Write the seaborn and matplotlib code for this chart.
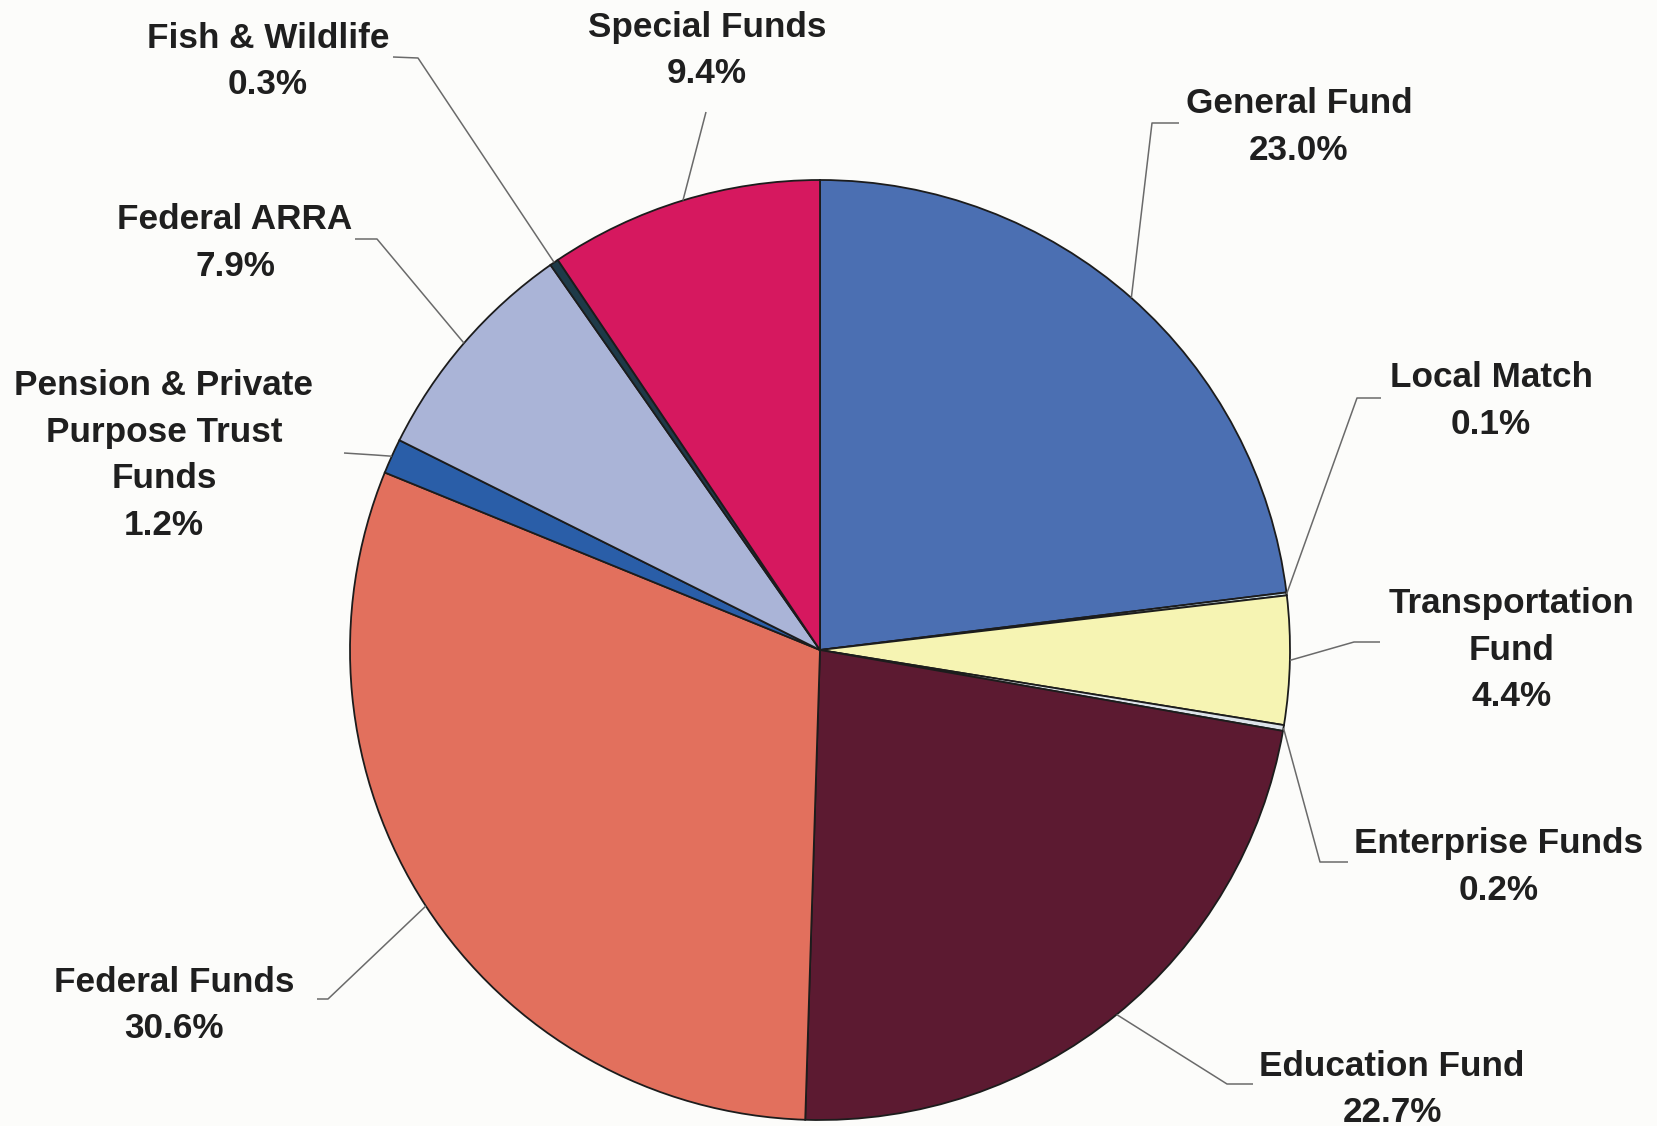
import numpy as np
import matplotlib
matplotlib.use("Agg")
import matplotlib.pyplot as plt
import seaborn as sns
from matplotlib import font_manager

# Fund shares, clockwise from 12 o'clock
funds = ["General Fund", "Local Match", "Transportation Fund", "Enterprise Funds",
         "Education Fund", "Federal Funds", "Pension & Private Purpose Trust Funds",
         "Federal ARRA", "Fish & Wildlife", "Special Funds"]
shares = [23.0, 0.1, 4.4, 0.2, 22.7, 30.6, 1.2, 7.9, 0.3, 9.4]
label_lines = [["General Fund"], ["Local Match"], ["Transportation", "Fund"],
               ["Enterprise Funds"], ["Education Fund"], ["Federal Funds"],
               ["Pension & Private", "Purpose Trust", "Funds"],
               ["Federal ARRA"], ["Fish & Wildlife"], ["Special Funds"]]
colors = ["#4b6fb2", "#cfe4ee", "#f6f4b3", "#dde3ea", "#5c1a31",
          "#e2705d", "#2a5ea8", "#aab4d7", "#1e3a48", "#d6185f"]

sns.set_theme(style="white")
names = {f.name for f in font_manager.fontManager.ttflist}
family = "Liberation Sans Narrow" if "Liberation Sans Narrow" in names else "Liberation Sans"
plt.rcParams["font.family"] = [family, "DejaVu Sans"]
fsize = 23 if family == "Liberation Sans Narrow" else 25.3

W, H = 1658, 1126
fig = plt.figure(figsize=(W / 100, H / 100), dpi=100)
fig.patch.set_facecolor("#fcfcfa")
ax = fig.add_axes([0, 0, 1, 1])
ax.set_facecolor("#fcfcfa")

cx, cy, R = 820, H - 650, 470
wedges, _ = ax.pie(shares, colors=colors, startangle=90, counterclock=False,
                   center=(cx, cy), radius=R, frame=True,
                   wedgeprops=dict(edgecolor="#1c1c1c", linewidth=1.3))
ax.set_xlim(0, W)
ax.set_ylim(0, H)
ax.set_aspect("equal")
ax.axis("off")

# label layout in pixel coordinates (y measured from top):
# first-line centre, leader elbow, leader end (None = no horizontal run)
layout = [
    ((1299, 104), (1152, 123), (1179, 123)),
    ((1491, 378), (1357, 398), (1381, 398)),
    ((1512, 604), (1354, 642), (1380, 642)),
    ((1499, 844), (1320, 862), (1348, 862)),
    ((1392, 1066), (1227, 1084), (1253, 1084)),
    ((174, 982), (328, 999), (317, 999)),
    ((164, 386), (375, 455), (344, 453)),
    ((235, 220), (377, 239), (355, 239)),
    ((268, 38), (418, 58), (393, 57)),
    ((707, 27), (706, 112), None),
]
step = 46.5
txt_color = "#1f1f1f"

for w, val, lines, (tpos, elbow, end) in zip(wedges, shares, label_lines, layout):
    mid = np.deg2rad((w.theta1 + w.theta2) / 2)
    rx, ry = cx + R * np.cos(mid), cy + R * np.sin(mid)
    xs = [rx, elbow[0]]
    ys = [ry, H - elbow[1]]
    if end is not None:
        xs.append(end[0])
        ys.append(H - end[1])
    ax.plot(xs, ys, color="#6a6a6a", lw=1.1, solid_capstyle="butt", zorder=1)
    for i, line in enumerate(lines + [f"{val:.1f}%"]):
        ax.text(tpos[0], H - (tpos[1] + i * step), line, ha="center", va="center",
                fontsize=fsize, fontweight="bold", color=txt_color)

fig.savefig("out.png", dpi=100, facecolor=fig.get_facecolor())
